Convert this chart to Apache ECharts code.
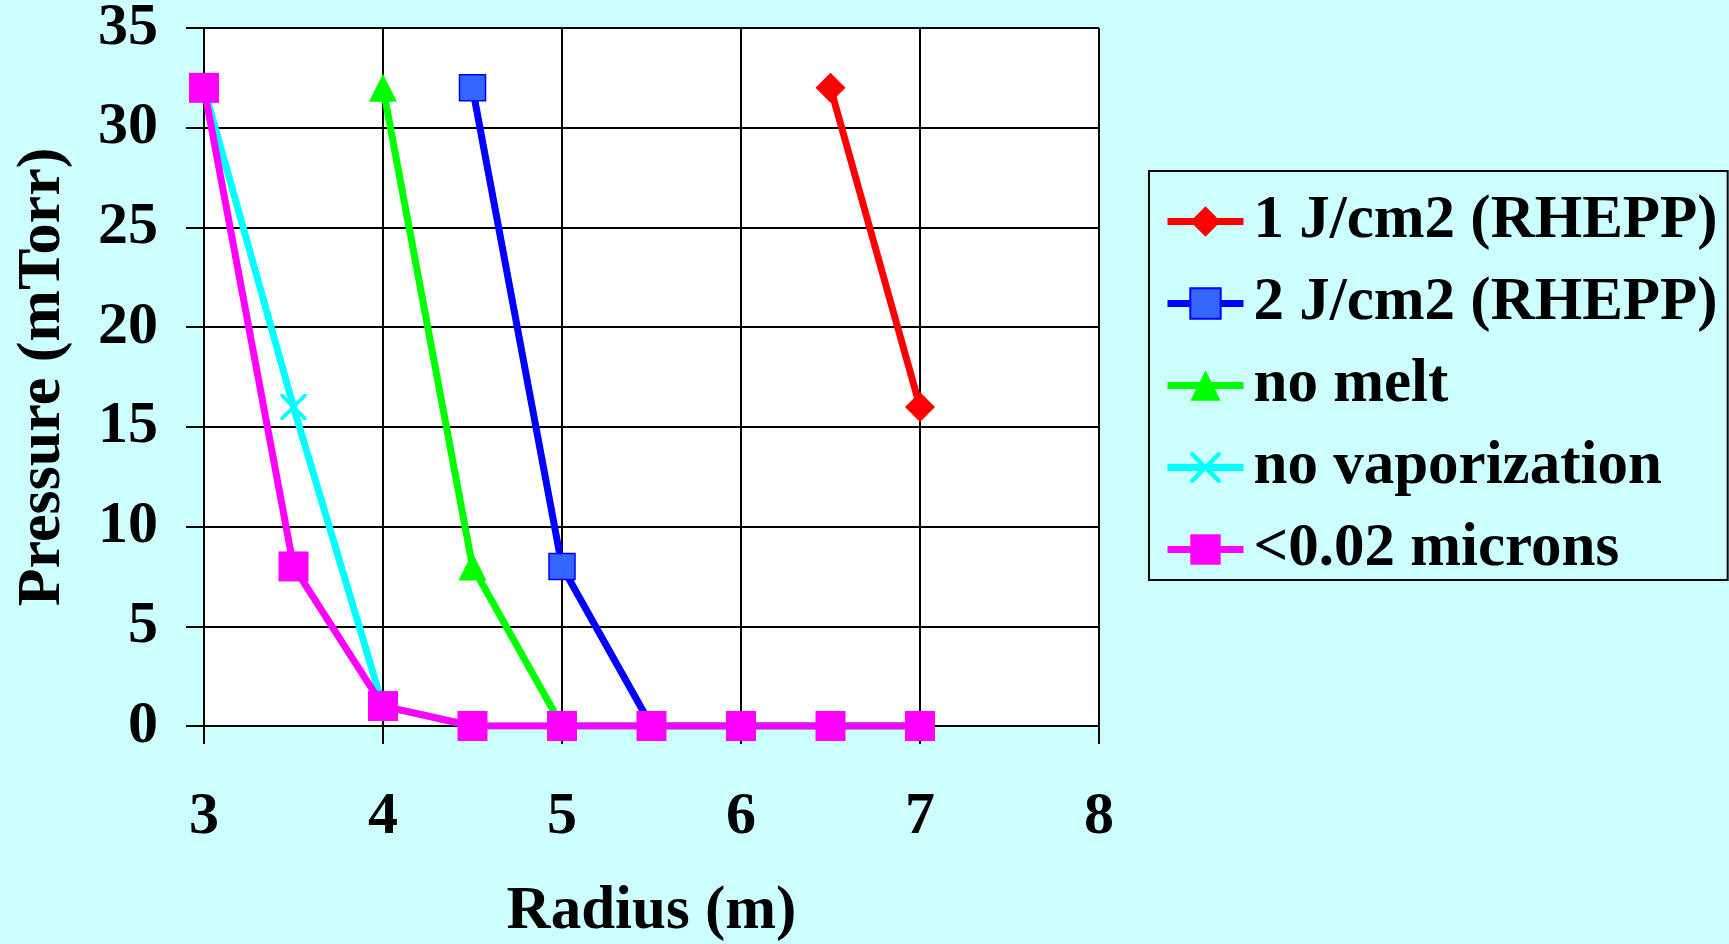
<!DOCTYPE html>
<html><head><meta charset="utf-8">
<script src="https://cdn.jsdelivr.net/npm/echarts@6/dist/echarts.min.js"></script>
<style>html,body{margin:0;padding:0;background:#ccffff;}#c{width:1729px;height:944px;}</style>
</head><body><div id="c"></div>
<script>
const seriesNames = ['1 J/cm2 (RHEPP)', '2 J/cm2 (RHEPP)', 'no melt', 'no vaporization', '<0.02 microns'];
const rhepp1 = [[6.5, 32], [7, 16]];
const rhepp2 = [[4.5, 32], [5, 8], [5.5, 0], [6, 0], [6.5, 0], [7, 0]];
const noMelt = [[4, 32], [4.5, 8], [5, 0], [5.5, 0], [6, 0], [6.5, 0], [7, 0]];
const noVapor = [[3, 32], [3.5, 16], [4, 1], [4.5, 0], [5, 0], [5.5, 0], [6, 0], [6.5, 0], [7, 0]];
const micron = [[3, 32], [3.5, 8], [4, 1], [4.5, 0], [5, 0], [5.5, 0], [6, 0], [6.5, 0], [7, 0]];
const xTicks = [3, 4, 5, 6, 7, 8];
const yTicks = [0, 5, 10, 15, 20, 25, 30, 35];

const FONT = '"Liberation Serif", "Times New Roman", serif';
const crossPath = 'path://M0,0L1,0L5,4L9,0L10,0L10,1L6,5L10,9L10,10L9,10L5,6L1,10L0,10L0,9L4,5L0,1Z';

function mk(name, data, color, symbol, size, fill, border) {
  return {
    name, type: 'line', data, symbol, symbolSize: size,
    lineStyle: { color, width: 7 },
    itemStyle: { color: fill || color, borderColor: border || fill || color, borderWidth: border ? 1.5 : 0 },
    emphasis: { disabled: true },
    z: 2
  };
}

const chart = echarts.init(document.getElementById('c'));
chart.setOption({
  backgroundColor: '#ccffff',
  animation: false,
  textStyle: { fontFamily: FONT },
  grid: { left: 204, right: 630, top: 28, bottom: 218, show: true, backgroundColor: '#ffffff', borderColor: '#000', borderWidth: 0,
    containLabel: false, outerBoundsMode: 'none' },
  xAxis: {
    type: 'value', min: xTicks[0], max: xTicks[xTicks.length - 1], interval: 1,
    name: 'Radius (m)', nameLocation: 'middle', nameGap: 156,
    nameTextStyle: { fontSize: 61, fontWeight: 'bold', color: '#000', fontFamily: FONT },
    axisLine: { show: true, onZero: false, lineStyle: { color: '#000', width: 2 } },
    axisTick: { show: true, inside: false, length: 18, lineStyle: { color: '#000', width: 2 } },
    axisLabel: { margin: 61, fontSize: 60, fontWeight: 'bold', color: '#000', fontFamily: FONT,
      formatter: v => xTicks.includes(v) ? String(v) : '' },
    splitLine: { show: true, lineStyle: { color: '#000', width: 2 } }
  },
  yAxis: {
    type: 'value', min: yTicks[0], max: yTicks[yTicks.length - 1], interval: 5,
    name: 'Pressure (mTorr)', nameLocation: 'middle', nameGap: 130,
    nameTextStyle: { fontSize: 62, fontWeight: 'bold', color: '#000', fontFamily: FONT },
    axisLine: { show: true, onZero: false, lineStyle: { color: '#000', width: 2 } },
    axisTick: { show: true, inside: false, length: 18, lineStyle: { color: '#000', width: 2 } },
    axisLabel: { margin: 46, fontSize: 60, fontWeight: 'bold', color: '#000', fontFamily: FONT,
      formatter: v => yTicks.includes(v) ? String(v) : '' },
    splitLine: { show: true, lineStyle: { color: '#000', width: 2 } }
  },
  legend: {
    orient: 'vertical', left: 1149, top: 171,
    padding: [20, 10, 0, 15], itemGap: 21,
    itemWidth: 76, itemHeight: 38,
    backgroundColor: '#ccffff', borderColor: '#000', borderWidth: 2,
    lineStyle: { width: 7 },
    textStyle: { fontSize: 61, fontWeight: 'bold', color: '#000', fontFamily: FONT, lineHeight: 61, padding: [0, 0, 0, 5] },
    data: seriesNames
  },
  series: [
    mk(seriesNames[0], rhepp1, '#ff0000', 'diamond', 30),
    mk(seriesNames[1], rhepp2, '#0000ff', 'rect', 26, '#3366ff', '#0000ff'),
    mk(seriesNames[2], noMelt, '#00ff00', 'triangle', 28),
    mk(seriesNames[3], noVapor, '#00ffff', crossPath, 26),
    mk(seriesNames[4], micron, '#ff00ff', 'rect', 30)
  ]
});
</script></body></html>
